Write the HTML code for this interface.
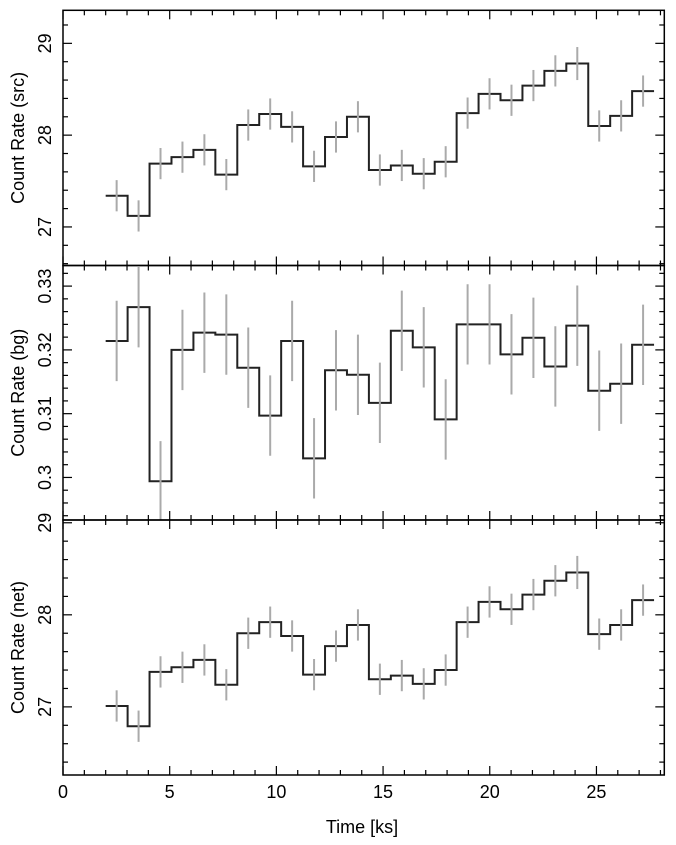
<!DOCTYPE html>
<html><head><meta charset="utf-8"><style>
html,body{margin:0;padding:0;background:#fff;}
svg{display:block;font-family:"Liberation Sans",sans-serif;}
</style></head><body>
<svg id="chart" width="676" height="845" viewBox="0 0 676 845" xmlns="http://www.w3.org/2000/svg"></svg>
<script>
const binStart = 2.0;
const binWidth = 1.028;
const srcValues = [27.34,27.12,27.69,27.76,27.84,27.57,28.11,28.23,28.09,27.66,27.98,28.20,27.62,27.67,27.58,27.71,28.24,28.45,28.38,28.54,28.70,28.78,28.10,28.21,28.48];
const srcErrors = [0.17,0.17,0.17,0.17,0.17,0.17,0.17,0.17,0.17,0.17,0.17,0.17,0.17,0.17,0.17,0.17,0.17,0.17,0.17,0.17,0.17,0.18,0.17,0.17,0.17];
const bgValues = [0.3214,0.3267,0.2994,0.3200,0.3227,0.3224,0.3172,0.3097,0.3214,0.3030,0.3168,0.3161,0.3117,0.3230,0.3204,0.3091,0.3240,0.3240,0.3193,0.3219,0.3174,0.3238,0.3136,0.3147,0.3208];
const bgErrors = [0.0063,0.0063,0.0063,0.0063,0.0063,0.0063,0.0063,0.0063,0.0063,0.0063,0.0063,0.0063,0.0063,0.0063,0.0063,0.0063,0.0063,0.0063,0.0063,0.0063,0.0063,0.0063,0.0063,0.0063,0.0063];
const netValues = [27.01,26.79,27.38,27.43,27.51,27.24,27.80,27.92,27.77,27.35,27.66,27.89,27.30,27.34,27.25,27.40,27.92,28.14,28.06,28.22,28.37,28.46,27.79,27.89,28.16];
const netErrors = [0.17,0.17,0.17,0.17,0.17,0.17,0.17,0.17,0.17,0.17,0.17,0.17,0.17,0.17,0.17,0.17,0.17,0.17,0.17,0.17,0.17,0.18,0.17,0.17,0.17];
const xTickLabels = ["0","5","10","15","20","25"];
const srcTickLabels = ["27","28","29"];
const bgTickLabels = ["0.3","0.31","0.32","0.33"];
const netTickLabels = ["27","28","29"];

const svg = document.getElementById('chart');
const NS = 'http://www.w3.org/2000/svg';
const X0 = 63, X1 = 664.3, XMIN = 0, XMAX = 28.18;
const xs = v => X0 + (v - XMIN) / (XMAX - XMIN) * (X1 - X0);

function mk(tag, attrs, parent){
  const e = document.createElementNS(NS, tag);
  for (const k in attrs) e.setAttribute(k, attrs[k]);
  (parent || svg).appendChild(e);
  return e;
}

function panel(name, top, bottom, ymin, ymax, minorStep, majorStep, tickLabels, values, errors, title){
  const g = mk('g', {});
  
  
  const ys = v => bottom - (v - ymin) / (ymax - ymin) * (bottom - top);
  for (let t = 0; t <= 28; t++) {
    const len = (t % 5 === 0) ? 9 : 5;
    const x = xs(t);
    const a = mk('line', {x1:x, x2:x, y1:top, y2:top+len, stroke:'#000', 'stroke-width':1.2}, g);
    
    
    const b = mk('line', {x1:x, x2:x, y1:bottom, y2:bottom-len, stroke:'#000', 'stroke-width':1.2}, g);
    
    
  }
  const nStart = Math.ceil(ymin / minorStep - 1e-6), nEnd = Math.floor(ymax / minorStep + 1e-6);
  const ratio = Math.round(majorStep / minorStep);
  for (let n = nStart; n <= nEnd; n++) {
    const y = ys(n * minorStep);
    const len = (n % ratio === 0) ? 9 : 5;
    const a = mk('line', {x1:X0, x2:X0+len, y1:y, y2:y, stroke:'#000', 'stroke-width':1.2}, g);
    
    
    const b = mk('line', {x1:X1, x2:X1-len, y1:y, y2:y, stroke:'#000', 'stroke-width':1.2}, g);
    
    
  }
  tickLabels.forEach(lbl => {
    const y = ys(parseFloat(lbl));
    const t = mk('text', {x:0, y:0, 'font-size':18, 'text-anchor':'middle', fill:'#000',
      transform:'translate(51,' + y + ') rotate(-90)'}, g);
    
    
    t.textContent = lbl;
  });
  const tt = mk('text', {x:0, y:0, 'font-size':18, 'text-anchor':'middle', fill:'#000',
    transform:'translate(24,' + ((top+bottom)/2) + ') rotate(-90)'}, g);
  
  
  tt.textContent = title;
  let d = '';
  values.forEach((v, i) => {
    const xa = xs(binStart + i * binWidth), xb = xs(binStart + (i + 1) * binWidth);
    const y = ys(v);
    d += (i === 0 ? 'M' : 'L') + xa + ',' + y + ' L' + xb + ',' + y + ' ';
  });
  const p = mk('path', {d:d, fill:'none', stroke:'#222', 'stroke-width':2}, g);
  
  
  values.forEach((v, i) => {
    const xc = xs(binStart + (i + 0.5) * binWidth);
    const e = mk('line', {x1:xc, x2:xc, y1:Math.min(bottom, ys(v - errors[i])), y2:Math.max(top, ys(v + errors[i])), stroke:'#aaa', 'stroke-width':2}, g);
    
    
  });
  const fr = mk('rect', {x:X0, y:top, width:X1-X0, height:bottom-top, fill:'none', stroke:'#000', 'stroke-width':1.5}, g);
  
  
}

panel('src', 10.3, 265.5, 26.58, 29.36, 0.2, 1, srcTickLabels, srcValues, srcErrors, 'Count Rate (src)');
panel('bg', 265.5, 520, 0.29333, 0.33323, 0.002, 0.01, bgTickLabels, bgValues, bgErrors, 'Count Rate (bg)');
panel('net', 520, 775, 26.26, 29.03, 0.2, 1, netTickLabels, netValues, netErrors, 'Count Rate (net)');

xTickLabels.forEach(lbl => {
  const t = mk('text', {x:xs(parseFloat(lbl)), y:798, 'font-size':18, 'text-anchor':'middle', fill:'#000'});
  
  
  t.textContent = lbl;
});
const xt = mk('text', {x:362, y:833, 'font-size':18, 'text-anchor':'middle', fill:'#000'});


xt.textContent = 'Time [ks]';
</script>
</body></html>
